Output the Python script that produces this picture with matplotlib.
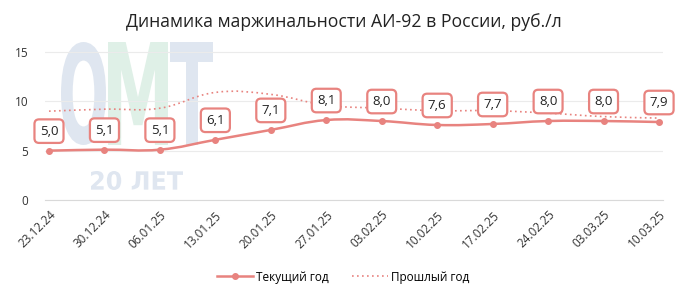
import numpy as np
import matplotlib
matplotlib.use("Agg")
import matplotlib.pyplot as plt
from matplotlib.path import Path
from matplotlib.patches import PathPatch
from matplotlib.textpath import TextPath
from matplotlib.font_manager import FontProperties
import matplotlib.transforms as mtransforms

plt.rcParams['font.family'] = ['Open Sans', 'DejaVu Sans']

dates = ["23.12.24", "30.12.24", "06.01.25", "13.01.25", "20.01.25", "27.01.25",
         "03.02.25", "10.02.25", "17.02.25", "24.02.25", "03.03.25", "10.03.25"]
current_year = [5.0, 5.1, 5.1, 6.1, 7.1, 8.1, 8.0, 7.6, 7.7, 8.0, 8.0, 7.9]
previous_year = [9.0, 9.2, 9.3, 10.9, 10.7, 9.6, 9.3, 9.05, 9.05, 8.8, 8.45, 8.3]
labels = ["5,0", "5,1", "5,1", "6,1", "7,1", "8,1", "8,0", "7,6", "7,7", "8,0", "8,0", "7,9"]

line_color = "#e8837f"
x = np.arange(len(dates))

fig = plt.figure(figsize=(6.87, 2.98), dpi=100)
ax = fig.add_axes([45 / 687, 1 - 200 / 298, (663 - 45) / 687, (200 - 47) / 298])
ax.patch.set_alpha(0)
ax.set_xlim(-0.072, 11.072)
ax.set_ylim(0, 15.5)


# smooth curve through the points (chart.js style tension), drawn as bezier path
def smooth_path(xs, ys, tension=0.4):
    pts = ax.transData.transform(np.column_stack([xs, ys]))
    n = len(pts)
    cps = []
    for i in range(n):
        prev = pts[max(i - 1, 0)]
        cur = pts[i]
        nxt = pts[min(i + 1, n - 1)]
        d01 = np.hypot(*(cur - prev))
        d12 = np.hypot(*(nxt - cur))
        tot = d01 + d12 if d01 + d12 > 0 else 1
        fa = tension * d01 / tot
        fb = tension * d12 / tot
        cps.append((cur - fa * (nxt - prev), cur + fb * (nxt - prev)))
    verts = [pts[0]]
    codes = [Path.MOVETO]
    for i in range(n - 1):
        verts += [cps[i][1], cps[i + 1][0], pts[i + 1]]
        codes += [Path.CURVE4] * 3
    verts = ax.transData.inverted().transform(np.array(verts))
    return Path(verts, codes)


# watermark: text stretched to fit a box given in pixels (top-left origin)
def fitted_text(s, x0, x1, ytop, ybot, color):
    tp = TextPath((0, 0), s, size=10, prop=FontProperties(family="DejaVu Sans", weight="bold"))
    ext = tp.get_extents()
    sx = (x1 - x0) / ext.width
    sy = (ybot - ytop) / ext.height
    tr = (mtransforms.Affine2D().translate(-ext.x0, -ext.y0).scale(sx, sy)
          .translate(x0, 298 - ybot))
    patch = PathPatch(tr.transform_path(tp), facecolor=color, edgecolor="none",
                      transform=None, zorder=-1)
    fig.patches.append(patch)

fitted_text("О", 61, 106, 42, 145, "#dfe6f0")
fitted_text("М", 108, 168, 42, 145, "#dff0e7")
fitted_text("Т", 170, 213, 42, 145, "#dfe6f0")
fitted_text("20 ЛЕТ", 91, 183, 171, 190, "#dfe6f0")

ax.set_yticks([0, 5, 10, 15])
ax.grid(axis="y", color="#ebebeb", linewidth=0.8)
ax.set_axisbelow(True)
for s in ["top", "right", "left"]:
    ax.spines[s].set_visible(False)
ax.spines["bottom"].set_color("#d9d9d9")
ax.tick_params(axis="both", length=0, labelsize=8.5, colors="#333333")
ax.tick_params(axis="y", pad=12)
ax.set_xticks(x)
ax.set_xticklabels(dates, rotation=45, ha="right", rotation_mode="anchor")
ax.tick_params(axis="x", pad=6)

# previous year dotted line
ax.add_patch(PathPatch(smooth_path(x, previous_year), facecolor="none",
                       edgecolor=line_color, linestyle=(0, (1, 2)), linewidth=1.2, zorder=2))
# current year line
ax.add_patch(PathPatch(smooth_path(x, current_year), facecolor="none",
                       edgecolor=line_color, linewidth=1.8, zorder=3))
ax.plot(x, current_year, "o", color=line_color, markersize=4, zorder=4)

for xi, yi, lab in zip(x, current_year, labels):
    ax.annotate(lab, (xi, yi), xytext=(0, 19.5), textcoords="offset pixels",
                ha="center", va="center", fontsize=9.5, color="#222222",
                bbox=dict(boxstyle="round,pad=0.4,rounding_size=0.35", facecolor="white",
                          edgecolor=line_color, linewidth=1.6), zorder=5)

fig.text(0.5, 1 - 22 / 298, "Динамика маржинальности АИ-92 в России, руб./л",
         ha="center", va="center", fontsize=12.7, color="#222222")

# legend
h1, = ax.plot([], [], "-o", color=line_color, linewidth=1.8, markersize=4, label="Текущий год")
h2, = ax.plot([], [], linestyle=(0, (1, 2)), color=line_color, linewidth=1.2, label="Прошлый год")
fig.legend(handles=[h1, h2], loc="center", bbox_to_anchor=(0.5, 1 - 277 / 298), ncol=2,
           frameon=False, fontsize=8.5, handlelength=3.0, columnspacing=2.0, handletextpad=0.3)

fig.savefig("out.png", dpi=100)
